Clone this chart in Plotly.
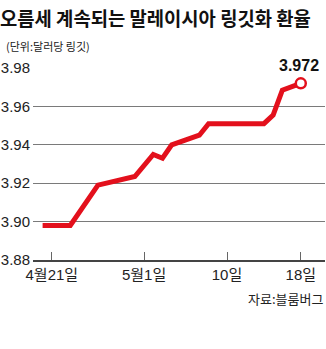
import plotly.graph_objects as go

dates = ["2016-04-20", "2016-04-23", "2016-04-26", "2016-04-30", "2016-05-02",
         "2016-05-03", "2016-05-04", "2016-05-07", "2016-05-08", "2016-05-14",
         "2016-05-15", "2016-05-16", "2016-05-18"]
values = [3.898, 3.898, 3.919, 3.9235, 3.935, 3.933, 3.940, 3.945, 3.951,
          3.951, 3.9555, 3.9685, 3.972]
tick_dates = ["2016-04-21", "2016-05-01", "2016-05-10", "2016-05-18"]
tick_labels = ["4월21일", "5월1일", "10일", "18일"]
y_ticks = [3.88, 3.90, 3.92, 3.94, 3.96, 3.98]
y_labels = ["3.88", "3.90", "3.92", "3.94", "3.96", "3.98"]

title = "오름세 계속되는 말레이시아 링깃화 환율"
subtitle = "(단위:달러당 링깃)"
source = "자료:블룸버그"
last_label = "3.972"

W, H = 326, 349
L, R, T, B = 29, 1, 68, 89
RED = "#e3101c"
KFONT = "Noto Sans CJK KR"
NFONT = "Liberation Sans Narrow, Liberation Sans, Noto Sans CJK KR"

fig = go.Figure()
fig.add_trace(go.Scatter(
    x=dates, y=values, mode="lines",
    line=dict(color=RED, width=5), hoverinfo="skip", cliponaxis=False))
fig.add_trace(go.Scatter(
    x=[dates[-1]], y=[values[-1]], mode="markers",
    marker=dict(size=10, color="white", line=dict(color=RED, width=2.5)),
    cliponaxis=False, hoverinfo="skip"))

fig.add_annotation(x=dates[-1], y=values[-1], text="<b>" + last_label + "</b>",
                   showarrow=False, yshift=18, xshift=-2,
                   font=dict(family=NFONT, size=16, color="#111"))

fig.update_layout(
    width=W, height=H, margin=dict(l=L, r=R, t=T, b=B),
    paper_bgcolor="white", plot_bgcolor="white", showlegend=False,
    title=dict(text="<b>" + title + "</b>", xref="container", yref="container",
               x=0.0, xanchor="left", y=1 - 19 / H, yanchor="middle",
               font=dict(family=KFONT, size=18.8, color="#111")),
    xaxis=dict(range=["2016-04-18 23:00", "2016-05-20 15:00"],
               tickvals=tick_dates, ticktext=tick_labels,
               ticks="inside", ticklen=8, tickcolor="#666", tickwidth=1,
               showgrid=False, zeroline=False,
               showline=True, linecolor="#444", linewidth=2,
               tickfont=dict(family=NFONT, size=15, color="#222")),
    yaxis=dict(range=[3.88, 3.98], tickvals=y_ticks, ticktext=y_labels,
               showgrid=True, gridcolor="#7a7a7a", gridwidth=1,
               zeroline=False, ticks="", ticklabelstandoff=2,
               tickfont=dict(family=NFONT, size=15, color="#222")),
)

fig.add_annotation(xref="paper", yref="paper", x=-L / (W - L - R), y=1 + (T - 46) / (H - T - B),
                   xanchor="left", yanchor="middle", showarrow=False,
                   text=subtitle, font=dict(family=KFONT, size=11, color="#222"))
fig.add_annotation(xref="paper", yref="paper", x=1, y=-(298 - (H - B)) / (H - T - B),
                   xanchor="right", yanchor="middle", showarrow=False,
                   text=source, font=dict(family=KFONT, size=13, color="#222"))

fig.write_html("out.html")
